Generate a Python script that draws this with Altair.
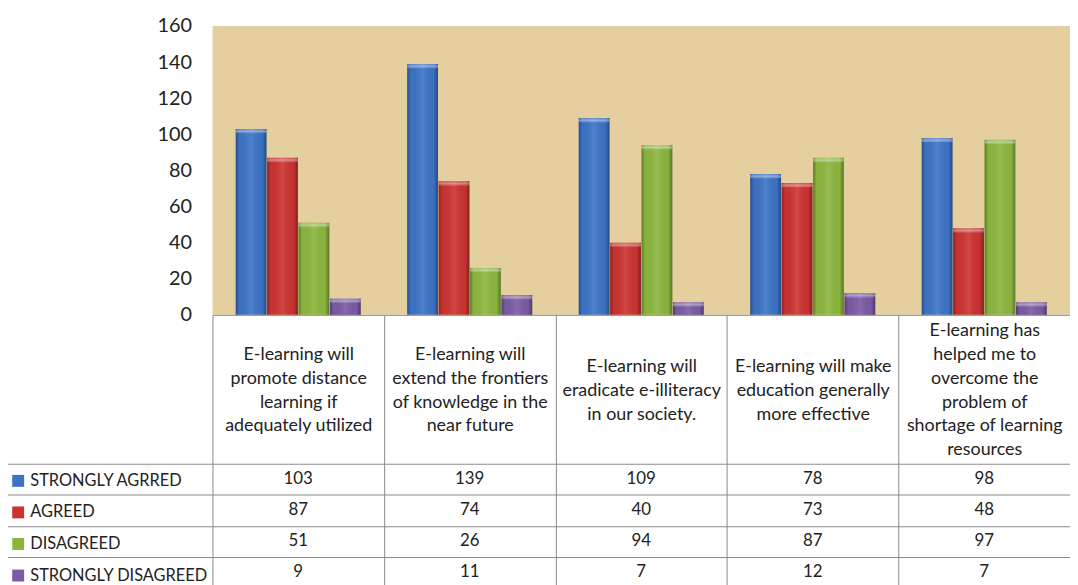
import altair as alt
import pandas as pd

# ---------------- data ----------------
category_lines = [
    ["E-learning will", "promote distance", "learning if", "adequately utilized"],
    ["E-learning will", "extend the frontiers", "of knowledge in the", "near future"],
    ["E-learning will", "eradicate e-illiteracy", "in our society."],
    ["E-learning will make", "education generally", "more effective"],
    ["E-learning has", "helped me to", "overcome the", "problem of",
     "shortage of learning", "resources"],
]
categories = ["|".join(lines) for lines in category_lines]

series = ["STRONGLY AGRRED", "AGREED", "DISAGREED", "STRONGLY DISAGREED"]
strongly_agreed = [103, 139, 109, 78, 98]
agreed = [87, 74, 40, 73, 48]
disagreed = [51, 26, 94, 87, 97]
strongly_disagreed = [9, 11, 7, 12, 7]
series_values = [strongly_agreed, agreed, disagreed, strongly_disagreed]

colors = ["#3c73c6", "#cb3330", "#8bb63e", "#7a5aa5"]
y_ticks = [0, 20, 40, 60, 80, 100, 120, 140, 160]

rows = []
for s, vals in zip(series, series_values):
    for c, v in zip(categories, vals):
        rows.append({"category": c, "series": s, "value": v})
df = pd.DataFrame(rows)

# ---------------- styling ----------------
FONT = "Lato"
TXT = "#222222"
LINE = "#8a8a8a"
W, H = 864, 291
TICK = 275          # length of column separators below the plot
CENTER = 76         # header-cell centre below the plot bottom
LH = 24             # header line height


def pad_for(n):
    return CENTER - (n - 1) * LH / 2 - TICK


x_scale = alt.Scale(domain=categories, paddingInner=0, paddingOuter=0)
x_axis = alt.Axis(
    title=None, orient="bottom", tickBand="extent", tickSize=TICK,
    tickColor=LINE, domainColor=LINE, labelExpr="split(datum.label, '|')",
    labelFontSize=18, labelFont=FONT, labelLineHeight=LH, labelColor=TXT,
    labelPadding={
        "condition": [
            {"test": "length(split(datum.value, '|')) == 3", "value": pad_for(3)},
            {"test": "length(split(datum.value, '|')) == 6", "value": pad_for(6)},
        ],
        "value": pad_for(4),
    },
    labelBaseline="middle", labelAlign="center",
    labelAngle=0, labelOverlap=False, labelLimit=400, labelFlush=False,
)
x_enc = alt.X("category:N", scale=x_scale, axis=x_axis, sort=categories)
xoff_enc = alt.XOffset("series:N", sort=series,
                       scale=alt.Scale(domain=series, paddingInner=0.02, paddingOuter=0.74))
y_scale = alt.Scale(domain=[0, 160], nice=False)
y_enc = alt.Y("value:Q", scale=y_scale,
              axis=alt.Axis(values=y_ticks, title=None, ticks=False, domain=False,
                            grid=False, labelFontSize=20, labelFont=FONT,
                            labelColor=TXT, labelPadding=21))

bars = alt.Chart(df).mark_bar(strokeWidth=0).encode(
    x=x_enc, xOffset=xoff_enc, y=y_enc,
    color=alt.Color("series:N", sort=series,
                    scale=alt.Scale(domain=series, range=colors),
                    legend=alt.Legend(
                        orient="none", legendX=-204, legendY=450, title=None,
                        symbolType="square", symbolSize=144, symbolStrokeWidth=0,
                        labelFontSize=16.5, labelFont=FONT, labelColor=TXT,
                        labelLimit=400, labelOffset=4, rowPadding=14.8,
                        padding=0, direction="vertical")),
)

# bevel shading overlay (same bars, shared geometry)
bevel = alt.Chart(df).mark_bar(
    strokeWidth=0,
    color=alt.Gradient(
        gradient="linear", x1=0, x2=1, y1=0, y2=0,
        stops=[
            alt.GradientStop(offset=0, color="rgba(0,0,0,0.32)"),
            alt.GradientStop(offset=0.12, color="rgba(0,0,0,0.02)"),
            alt.GradientStop(offset=0.5, color="rgba(255,255,255,0.10)"),
            alt.GradientStop(offset=0.86, color="rgba(0,0,0,0.02)"),
            alt.GradientStop(offset=1, color="rgba(0,0,0,0.36)"),
        ],
    ),
).encode(x=x_enc, xOffset=xoff_enc,
         y=alt.Y("value:Q", scale=y_scale, axis=None))

# light cap on top of each bar
cap = alt.Chart(df).transform_calculate(
    cap_low="datum.value - 2.6"
).mark_bar(
    strokeWidth=0, cornerRadius=2,
    color=alt.Gradient(
        gradient="linear", x1=0, x2=0, y1=0, y2=1,
        stops=[
            alt.GradientStop(offset=0, color="rgba(255,255,255,0.15)"),
            alt.GradientStop(offset=0.5, color="rgba(255,255,255,0.40)"),
            alt.GradientStop(offset=1, color="rgba(255,255,255,0.05)"),
        ],
    ),
).encode(x=x_enc, xOffset=xoff_enc,
         y=alt.Y("value:Q", scale=y_scale, axis=None),
         y2="cap_low:Q")

table_scale = dict(domain=series, range=[441, 566.2], paddingInner=0, paddingOuter=0)

table_text = alt.Chart(df).mark_text(fontSize=17, font=FONT, color=TXT).encode(
    x=x_enc,
    y=alt.Y("series:N", sort=series, scale=alt.Scale(**table_scale),
            axis=alt.Axis(orient="left", grid=True, gridColor=LINE, tickBand="extent",
                          tickSize=207, tickColor=LINE, labels=False, domain=False,
                          title=None)),
    text="value:Q",
)

table_border = alt.Chart(df).mark_text(opacity=0).encode(
    x=x_enc,
    y=alt.Y("series:N", sort=series, scale=alt.Scale(**table_scale),
            axis=alt.Axis(orient="left", offset=207, domain=True, domainColor=LINE,
                          ticks=False, labels=False, grid=False, title=None)),
    text="value:Q",
)

chart = alt.layer(bars, bevel, cap, table_text, table_border).resolve_scale(
    y="independent"
).properties(
    width=W, height=H,
    autosize=alt.AutoSizeParams(type="none"),
    padding={"left": 206, "top": 16, "right": 0, "bottom": 270},
).configure(font=FONT, background="white").configure_view(fill="#E6CF9E", strokeWidth=0)

chart.save("out.html", embed_options={"renderer": "svg", "actions": False})
